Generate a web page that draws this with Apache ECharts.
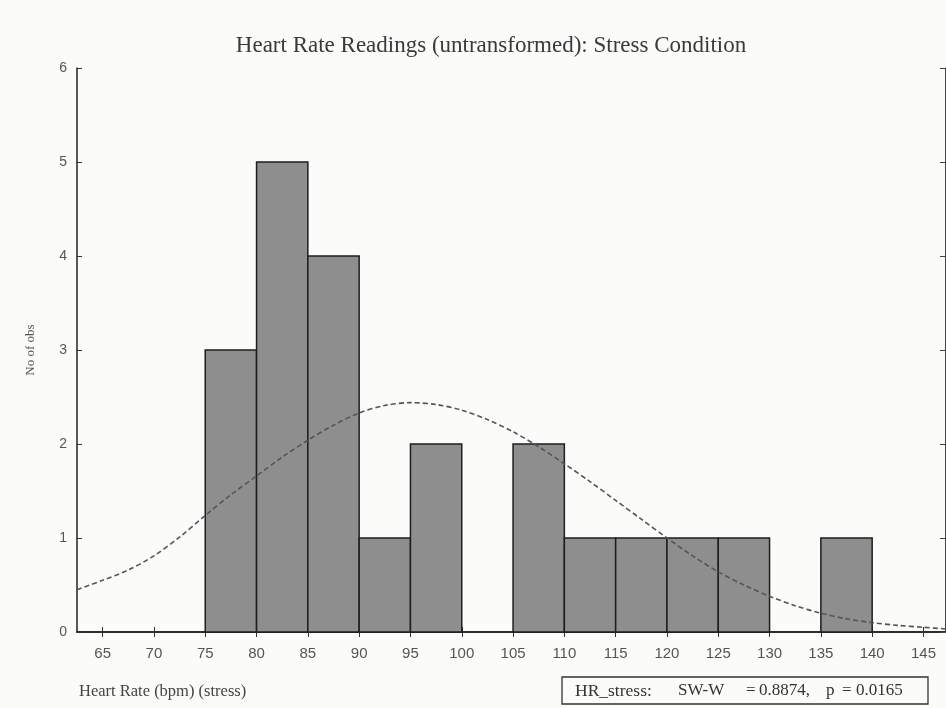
<!DOCTYPE html>
<html><head><meta charset="utf-8">
<script src="https://cdn.jsdelivr.net/npm/echarts@6/dist/echarts.min.js"></script>
<style>html,body{margin:0;padding:0;background:#fbfbfa;}#c{width:946px;height:708px;}</style>
</head><body><div id="c"></div>
<script>
var binStart = [75,80,85,90,95,100,105,110,115,120,125,130,135];
var binWidth = 5;
var counts = [3,5,4,1,2,0,2,1,1,1,1,0,1];
var curveX = [62.5,65,67.5,70,72.5,75,77.5,80,82.5,85,87.5,90,92.5,95,97.5,100,102.5,105,107.5,110,112.5,115,117.5,120,122.5,125,127.5,130,132.5,135,137.5,140,142.5,145,147.5];
var curveY = [0.45,0.55,0.66,0.81,1.01,1.24,1.46,1.66,1.86,2.04,2.2,2.33,2.41,2.44,2.42,2.36,2.26,2.13,1.97,1.79,1.6,1.4,1.2,1.0,0.81,0.64,0.5,0.38,0.28,0.2,0.14,0.1,0.07,0.05,0.03];
var xTicks = [65,70,75,80,85,90,95,100,105,110,115,120,125,130,135,140,145];

var chart = echarts.init(document.getElementById('c'));
var hist = binStart.map(function(s,i){return [s, s+binWidth, counts[i]];}).filter(function(d){return d[2]>0;});
var curve = curveX.map(function(x,i){return [x, curveY[i]];});
var serif = 'Liberation Serif';
function t(txt, x, size){return {type:'text', x:x, y:691, style:{text:txt, fontFamily:serif, fontSize:size, fill:'#333', textVerticalAlign:'middle'}};}

chart.setOption({
  backgroundColor:'#fbfbfa',
  animation:false,
  title:{text:'Heart Rate Readings (untransformed): Stress Condition', left:486, top:29, textAlign:'center',
    textStyle:{fontFamily:serif, fontSize:23, fontWeight:'normal', color:'#3a3a3a'}},
  grid:{left:77, right:1, top:68, bottom:76},
  xAxis:[{type:'value', min:62.5, max:147.1,
    axisLine:{lineStyle:{color:'#222', width:1.5}},
    axisTick:{inside:true, length:5, lineStyle:{color:'#333'}, customValues:xTicks},
    axisLabel:{margin:14, fontFamily:'Liberation Sans', fontSize:15, color:'#555', customValues:xTicks},
    splitLine:{show:false}},
   {type:'value', position:'top', min:62.5, max:147.1,
    axisLine:{lineStyle:{color:'#222', width:1.5}},
    axisTick:{inside:true, length:5, lineStyle:{color:'#333'}, customValues:xTicks},
    axisLabel:{show:false}, splitLine:{show:false}}],
  yAxis:[{type:'value', min:0, max:6, interval:1,
    name:'No of obs', nameLocation:'middle', nameGap:40, nameRotate:90,
    nameTextStyle:{fontFamily:serif, fontSize:13, color:'#555'},
    axisLine:{show:true, lineStyle:{color:'#222', width:1.5}},
    axisTick:{show:true, inside:true, length:5, lineStyle:{color:'#333'}},
    axisLabel:{margin:10, fontFamily:'Liberation Sans', fontSize:14, color:'#555'},
    splitLine:{show:false}},
   {type:'value', position:'right', min:0, max:6, interval:1,
    axisLine:{show:true, lineStyle:{color:'#444', width:1}},
    axisTick:{show:true, inside:true, length:5, lineStyle:{color:'#444'}},
    axisLabel:{show:false}, splitLine:{show:false}}],
  series:[
    {type:'custom', data:hist, encode:{x:[0,1], y:2},
     renderItem:function(params, api){
       var p0 = api.coord([api.value(0), 0]);
       var p1 = api.coord([api.value(1), api.value(2)]);
       return {type:'rect', shape:{x:p0[0], y:p1[1], width:p1[0]-p0[0], height:p0[1]-p1[1]},
         style:{fill:'#8e8e8e', stroke:'#1e1e1e', lineWidth:1.5}};
     }, z:2},
    {type:'line', data:curve, smooth:0.3, showSymbol:false, z:3,
     lineStyle:{color:'#555', width:1.6, type:[5,3]}}
  ],
  graphic:[
    {type:'text', x:79, y:692, style:{text:'Heart Rate (bpm) (stress)', fontFamily:serif, fontSize:16.5, fill:'#444', textVerticalAlign:'middle'}},
    {type:'rect', shape:{x:562, y:677, width:366, height:27}, style:{fill:'#fbfbfa', stroke:'#333', lineWidth:1.3}},
    t('HR_stress:', 575, 17.5),
    t('SW-W', 678, 17),
    t('=', 746, 17),
    t('0.8874,', 759, 17),
    t('p', 826, 17),
    t('=', 842, 17),
    t('0.0165', 856, 17)
  ]
});
</script></body></html>
